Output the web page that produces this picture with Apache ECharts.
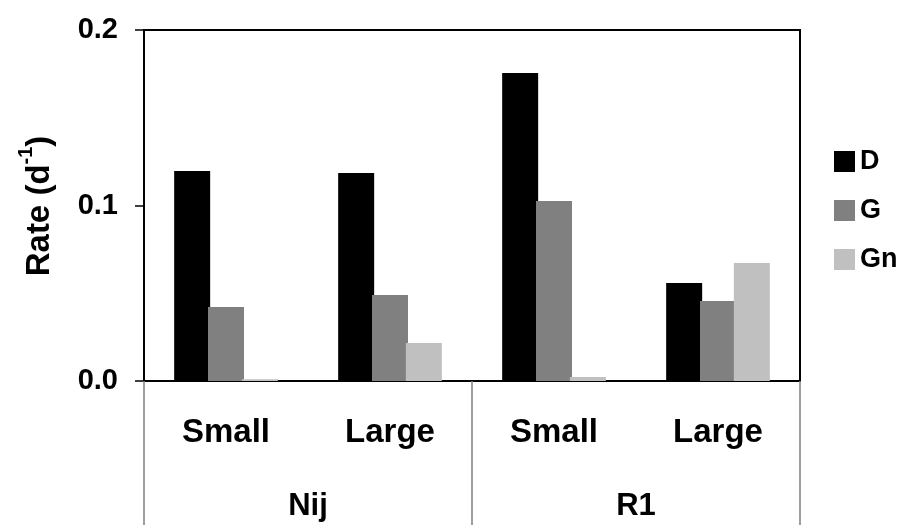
<!DOCTYPE html>
<html>
<head>
<meta charset="utf-8">
<script src="https://cdn.jsdelivr.net/npm/echarts@6/dist/echarts.min.js"></script>
<style>html,body{margin:0;padding:0;background:#fff;}#c{width:898px;height:525px;}</style>
</head>
<body>
<div id="c"></div>
<script>
const categories = ['Small', 'Large', 'Small', 'Large'];
const groups = ['Nij', 'R1'];
const seriesNames = ['D', 'G', 'Gn'];
const dValues = [0.1197, 0.1185, 0.1755, 0.0558];
const gValues = [0.0422, 0.0490, 0.1026, 0.0456];
const gnValues = [0.0010, 0.0217, 0.0023, 0.0672];
const yTicks = [0, 0.1, 0.2];
const colors = ['#000000', '#808080', '#c0c0c0'];

const chart = echarts.init(document.getElementById('c'));
const font = 'Liberation Sans, Arial, sans-serif';
chart.setOption({
  animation: false,
  backgroundColor: '#ffffff',
  grid: { left: 144, right: 98, top: 30, bottom: 144, show: true, borderColor: '#000', borderWidth: 2, backgroundColor: 'transparent' },
  legend: {
    orient: 'vertical', left: 829, top: 143,
    itemWidth: 21, itemHeight: 21, itemGap: 22,
    icon: 'rect',
    data: seriesNames,
    textStyle: { fontFamily: font, fontSize: 27, fontWeight: 'bold', color: '#000', padding: [0, 0, 0, 0] }
  },
  xAxis: [
    {
      type: 'category', data: categories, position: 'bottom',
      axisLine: { lineStyle: { color: '#000', width: 2 } },
      axisTick: { show: false },
      axisLabel: { fontFamily: font, fontSize: 33, fontWeight: 'bold', color: '#000', margin: 35, interval: 0 }
    },
    {
      type: 'category', data: groups, position: 'bottom', gridIndex: 0,
      axisLine: { show: false },
      axisTick: { show: true, alignWithLabel: false, length: 146, lineStyle: { color: '#808080', width: 1.5 } },
      axisLabel: { fontFamily: font, fontSize: 31, fontWeight: 'bold', color: '#000', margin: 110, interval: 0 }
    }
  ],
  yAxis: {
    type: 'value', min: 0, max: 0.2, interval: 0.1,
    axisLine: { show: true, lineStyle: { color: '#000', width: 2 } },
    axisTick: { show: true, length: 9, lineStyle: { color: '#000', width: 1.5 } },
    splitLine: { show: false },
    axisLabel: { fontFamily: font, fontSize: 29, fontWeight: 'bold', color: '#000', margin: 26, formatter: v => v.toFixed(1) }
  },
  graphic: [{
    type: 'text', x: 36, y: 206, rotation: Math.PI / 2,
    style: {
      text: '{a|Rate (d}{s|-1}{a|)}',
      align: 'center', verticalAlign: 'middle',
      rich: {
        a: { fontFamily: font, fontSize: 33, fontWeight: 'bold', fill: '#000', lineHeight: 40, verticalAlign: 'bottom' },
        s: { fontFamily: font, fontSize: 20, fontWeight: 'bold', fill: '#000', lineHeight: 40, verticalAlign: 'top' }
      }
    }
  }],
  series: [
    { name: 'D', type: 'bar', data: dValues, barWidth: 36, barGap: '-6%', itemStyle: { color: colors[0] } },
    { name: 'G', type: 'bar', data: gValues, barWidth: 36, barGap: '-6%', itemStyle: { color: colors[1] } },
    { name: 'Gn', type: 'bar', data: gnValues, barWidth: 36, barGap: '-6%', itemStyle: { color: colors[2] } }
  ]
});
</script>
</body>
</html>
